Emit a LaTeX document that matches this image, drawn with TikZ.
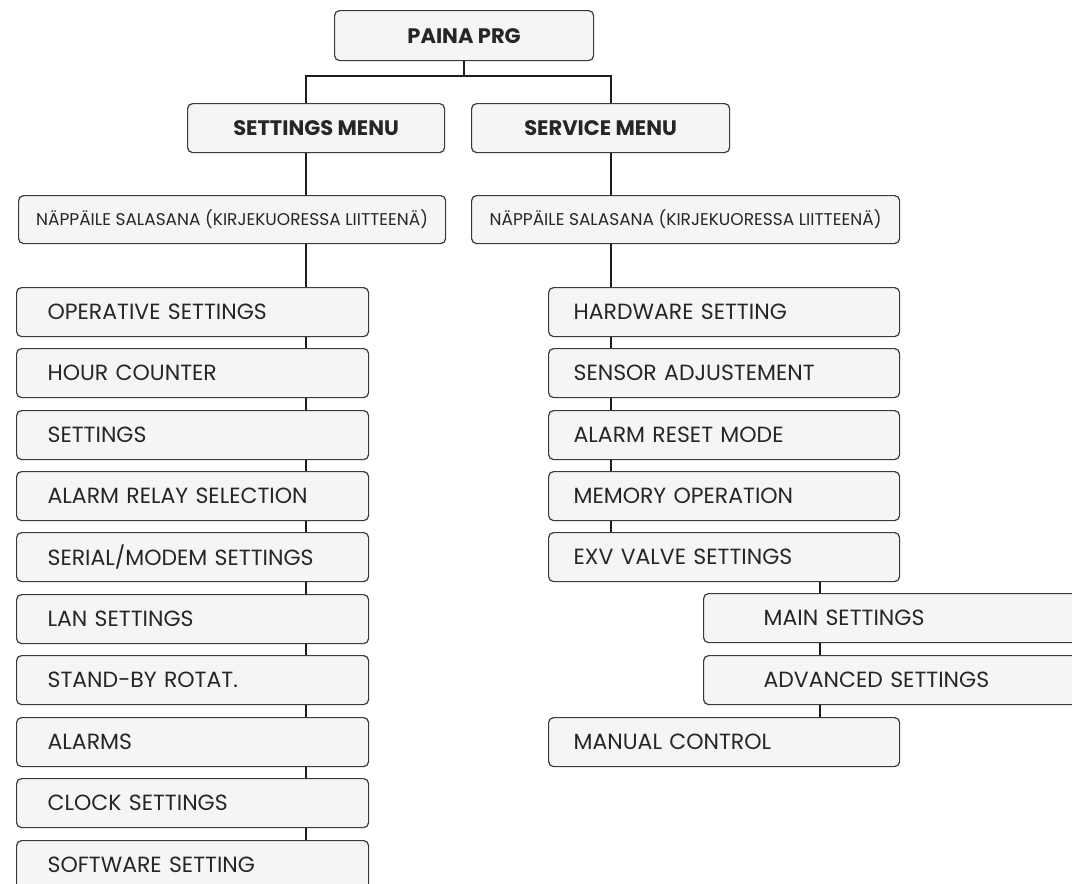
\documentclass[tikz,border=0pt]{standalone}
\usepackage{fontspec}
\setmainfont{Poppins}
\definecolor{boxfill}{HTML}{F3F5F6}
\definecolor{boxline}{HTML}{3A3A3A}
\definecolor{txt}{HTML}{262626}
\definecolor{conn}{HTML}{1E1E1E}
\begin{document}
\begin{tikzpicture}[x=1pt,y=-1pt,
  box/.style={draw=boxline, fill=boxfill, rounded corners=5pt, line width=1.2pt,
    minimum height=49pt, inner ysep=0pt, text=txt, font=\fontsize{22}{25}\selectfont},
  lbox/.style={box, inner xsep=31pt, text width=290pt, align=left, anchor=north west},
  rbox/.style={box, inner xsep=25pt, text width=301pt, align=left, anchor=north west},
  sbox/.style={box, inner xsep=60pt, text width=262pt, align=left, anchor=north west},
  menubox/.style={box, inner xsep=0pt, minimum width=257pt, minimum height=49pt,
    font=\fontsize{21}{24}\selectfont\bfseries, anchor=north west},
  pwbox/.style={box, inner xsep=0pt, minimum width=427pt, minimum height=48pt,
    font=\fontsize{17}{20}\selectfont, anchor=north west},
  link/.style={draw=conn, line width=2.2pt}]
\clip (0,0) rectangle (1072,884);
\fill[white] (0,0) rectangle (1072,884);

\node[menubox, minimum width=259pt, minimum height=50pt] (paina) at (334,10) {PAINA PRG\hspace{26pt}};
\node[menubox] (setm) at (187,103) {SETTINGS MENU};
\node[menubox, minimum width=258pt] (serm) at (471,103) {SERVICE MENU\hspace{11pt}};
\node[pwbox] (npl) at (18,195) {NÄPPÄILE SALASANA (KIRJEKUORESSA LIITTEENÄ)};
\node[pwbox, minimum width=428pt] (npr) at (471,195) {NÄPPÄILE SALASANA (KIRJEKUORESSA LIITTEENÄ)};

\node[lbox] (l1) at (16,287) {OPERATIVE SETTINGS};
\node[lbox] (l2) at (16,348) {HOUR COUNTER};
\node[lbox] (l3) at (16,410) {SETTINGS};
\node[lbox] (l4) at (16,471) {ALARM RELAY SELECTION};
\node[lbox] (l5) at (16,532) {SERIAL/MODEM SETTINGS};
\node[lbox] (l6) at (16,594) {LAN SETTINGS};
\node[lbox] (l7) at (16,655) {STAND-BY ROTAT.};
\node[lbox] (l8) at (16,717) {ALARMS};
\node[lbox] (l9) at (16,778) {CLOCK SETTINGS};
\node[lbox] (l10) at (16,840) {SOFTWARE SETTING};

\node[rbox] (r1) at (548,287) {HARDWARE SETTING};
\node[rbox] (r2) at (548,348) {SENSOR ADJUSTEMENT};
\node[rbox] (r3) at (548,410) {ALARM RESET MODE};
\node[rbox] (r4) at (548,471) {MEMORY OPERATION};
\node[rbox] (r5) at (548,532) {EXV VALVE SETTINGS};
\node[sbox] (s1) at (703,593) {MAIN SETTINGS};
\node[sbox] (s2) at (703,655) {ADVANCED SETTINGS};
\node[rbox] (r6) at (548,717) {MANUAL CONTROL};

\coordinate (jl) at (306,76);
\coordinate (jr) at (611,76);
\coordinate (js) at (820,0);
\draw[link] (paina.south) -- (paina.south |- jl);
\draw[link] (setm.north -| jl) -- (jl) -- (jr) -- (serm.north -| jr);
\draw[link] (setm.south -| jl) -- (npl.north -| jl);
\draw[link] (serm.south -| jr) -- (npr.north -| jr);
\draw[link] (npl.south -| jl) -- (l1.north -| jl);
\draw[link] (npr.south -| jr) -- (r1.north -| jr);
\foreach \a/\b in {l1/l2,l2/l3,l3/l4,l4/l5,l5/l6,l6/l7,l7/l8,l8/l9,l9/l10}
  \draw[link] (\a.south -| jl) -- (\b.north -| jl);
\foreach \a/\b in {r1/r2,r2/r3,r3/r4,r4/r5}
  \draw[link] (\a.south -| jr) -- (\b.north -| jr);
\foreach \a/\b in {r5/s1,s1/s2,s2/r6}
  \draw[link] (\a.south -| js) -- (\b.north -| js);
\end{tikzpicture}
\end{document}
